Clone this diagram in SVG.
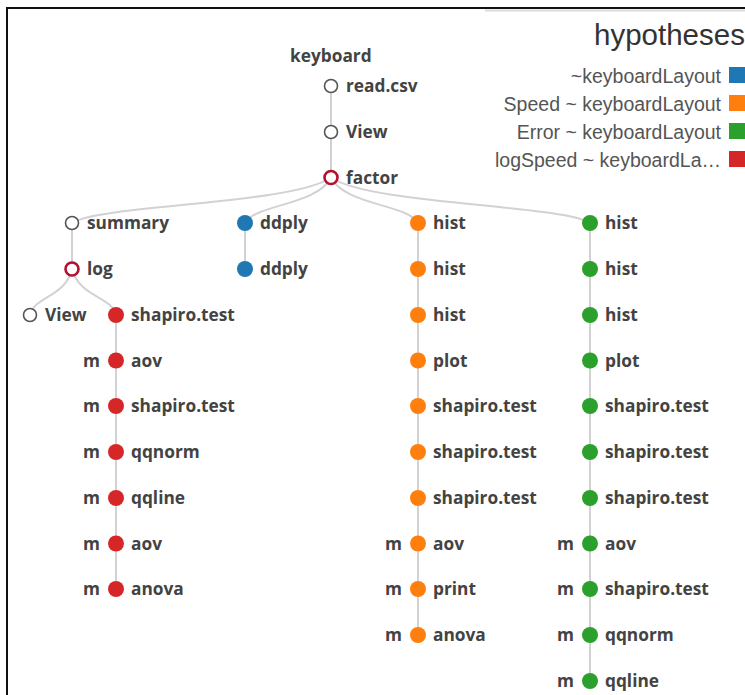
<svg xmlns="http://www.w3.org/2000/svg" width="745" height="695" viewBox="0 0 745 695">
<style>
.lbl{font-family:"Open Sans","DejaVu Sans",sans-serif;font-weight:700;font-size:17.3px;fill:#434343}
.m{text-anchor:end}
.leg{font-family:"Liberation Sans",Arial,sans-serif;font-size:19.5px;fill:#555;text-anchor:end}
.ttl{font-family:"Liberation Sans",Arial,sans-serif;font-size:29.5px;fill:#333}
.e{fill:none;stroke:#d2d2d2;stroke-width:2}
.ho{fill:#fff;stroke:#555;stroke-width:1.6}
.hr{fill:#fff;stroke:#b5102e;stroke-width:2.6}
.b{fill:#1f77b4}.o{fill:#ff7f0e}.g{fill:#2ca02c}.r{fill:#d62728}
</style>
<rect x="0" y="0" width="745" height="695" fill="#fff"/>
<line x1="485" y1="10.5" x2="745" y2="10.5" stroke="#dcdcdc" stroke-width="2"/>
<line x1="7" y1="8" x2="745" y2="8" stroke="#111" stroke-width="2"/>
<line x1="7" y1="7" x2="7" y2="695" stroke="#111" stroke-width="2"/>

<g id="connectors">
<path class="e" d="M331,86V177.5"/>
<path class="e" d="M331,177.5C292,204.8 98,204.8 72,223"/>
<path class="e" d="M331,177.5C318,204.8 254,204.8 245,223"/>
<path class="e" d="M331,177.5C344,204.8 409,204.8 418,223"/>
<path class="e" d="M331,177.5C370,204.8 564,204.8 590,223"/>
<path class="e" d="M72,223V269"/>
<path class="e" d="M72,269C66,296.6 34,296.6 30,315"/>
<path class="e" d="M72,269C79,296.6 112,296.6 116,315"/>
<path class="e" d="M116,315V589"/>
<path class="e" d="M245,223V269"/>
<path class="e" d="M418,223V635"/>
<path class="e" d="M590,223V681"/>
</g>

<g id="keyboard"><text class="lbl" x="290" y="62">keyboard</text></g>
<g id="read_csv"><circle class="ho" cx="331" cy="86" r="6.5"/><text class="lbl" x="346" y="92">read.csv</text></g>
<g id="view1"><circle class="ho" cx="331" cy="132" r="6.5"/><text class="lbl" x="346" y="138">View</text></g>
<g id="factor"><circle class="hr" cx="331" cy="177.5" r="6.5"/><text class="lbl" x="346" y="183.5">factor</text></g>

<g id="summary"><circle class="ho" cx="72" cy="223" r="6.5"/><text class="lbl" x="87" y="229">summary</text></g>
<g id="log"><circle class="hr" cx="72" cy="269" r="6.5"/><text class="lbl" x="87" y="275">log</text></g>
<g id="view2"><circle class="ho" cx="30" cy="315" r="6.5"/><text class="lbl" x="45" y="321">View</text></g>

<g id="r1"><circle class="r" cx="116" cy="315" r="8"/><text class="lbl" x="131" y="321">shapiro.test</text></g>
<g id="r2"><text class="lbl m" x="100" y="366.5">m</text><circle class="r" cx="116" cy="360.5" r="8"/><text class="lbl" x="131" y="366.5">aov</text></g>
<g id="r3"><text class="lbl m" x="100" y="412">m</text><circle class="r" cx="116" cy="406" r="8"/><text class="lbl" x="131" y="412">shapiro.test</text></g>
<g id="r4"><text class="lbl m" x="100" y="458">m</text><circle class="r" cx="116" cy="452" r="8"/><text class="lbl" x="131" y="458">qqnorm</text></g>
<g id="r5"><text class="lbl m" x="100" y="504">m</text><circle class="r" cx="116" cy="498" r="8"/><text class="lbl" x="131" y="504">qqline</text></g>
<g id="r6"><text class="lbl m" x="100" y="549.5">m</text><circle class="r" cx="116" cy="543.5" r="8"/><text class="lbl" x="131" y="549.5">aov</text></g>
<g id="r7"><text class="lbl m" x="100" y="595">m</text><circle class="r" cx="116" cy="589" r="8"/><text class="lbl" x="131" y="595">anova</text></g>

<g id="b1"><circle class="b" cx="245" cy="223" r="8"/><text class="lbl" x="260" y="229">ddply</text></g>
<g id="b2"><circle class="b" cx="245" cy="269" r="8"/><text class="lbl" x="260" y="275">ddply</text></g>

<g id="o1"><circle class="o" cx="418" cy="223" r="8"/><text class="lbl" x="433" y="229">hist</text></g>
<g id="o2"><circle class="o" cx="418" cy="269" r="8"/><text class="lbl" x="433" y="275">hist</text></g>
<g id="o3"><circle class="o" cx="418" cy="315" r="8"/><text class="lbl" x="433" y="321">hist</text></g>
<g id="o4"><circle class="o" cx="418" cy="360.5" r="8"/><text class="lbl" x="433" y="366.5">plot</text></g>
<g id="o5"><circle class="o" cx="418" cy="406" r="8"/><text class="lbl" x="433" y="412">shapiro.test</text></g>
<g id="o6"><circle class="o" cx="418" cy="452" r="8"/><text class="lbl" x="433" y="458">shapiro.test</text></g>
<g id="o7"><circle class="o" cx="418" cy="498" r="8"/><text class="lbl" x="433" y="504">shapiro.test</text></g>
<g id="o8"><text class="lbl m" x="402" y="549.5">m</text><circle class="o" cx="418" cy="543.5" r="8"/><text class="lbl" x="433" y="549.5">aov</text></g>
<g id="o9"><text class="lbl m" x="402" y="595">m</text><circle class="o" cx="418" cy="589" r="8"/><text class="lbl" x="433" y="595">print</text></g>
<g id="o10"><text class="lbl m" x="402" y="641">m</text><circle class="o" cx="418" cy="635" r="8"/><text class="lbl" x="433" y="641">anova</text></g>

<g id="g1"><circle class="g" cx="590" cy="223" r="8"/><text class="lbl" x="605" y="229">hist</text></g>
<g id="g2"><circle class="g" cx="590" cy="269" r="8"/><text class="lbl" x="605" y="275">hist</text></g>
<g id="g3"><circle class="g" cx="590" cy="315" r="8"/><text class="lbl" x="605" y="321">hist</text></g>
<g id="g4"><circle class="g" cx="590" cy="360.5" r="8"/><text class="lbl" x="605" y="366.5">plot</text></g>
<g id="g5"><circle class="g" cx="590" cy="406" r="8"/><text class="lbl" x="605" y="412">shapiro.test</text></g>
<g id="g6"><circle class="g" cx="590" cy="452" r="8"/><text class="lbl" x="605" y="458">shapiro.test</text></g>
<g id="g7"><circle class="g" cx="590" cy="498" r="8"/><text class="lbl" x="605" y="504">shapiro.test</text></g>
<g id="g8"><text class="lbl m" x="574" y="549.5">m</text><circle class="g" cx="590" cy="543.5" r="8"/><text class="lbl" x="605" y="549.5">aov</text></g>
<g id="g9"><text class="lbl m" x="574" y="595">m</text><circle class="g" cx="590" cy="589" r="8"/><text class="lbl" x="605" y="595">shapiro.test</text></g>
<g id="g10"><text class="lbl m" x="574" y="641">m</text><circle class="g" cx="590" cy="635" r="8"/><text class="lbl" x="605" y="641">qqnorm</text></g>
<g id="g11"><text class="lbl m" x="574" y="687">m</text><circle class="g" cx="590" cy="681" r="8"/><text class="lbl" x="605" y="687">qqline</text></g>

<g id="legend">
<text class="ttl" x="594" y="45">hypotheses</text>
<text class="leg" x="721" y="83">~keyboardLayout</text><rect class="b" x="729" y="67" width="17" height="16"/>
<text class="leg" x="721" y="111">Speed ~ keyboardLayout</text><rect class="o" x="729" y="95" width="17" height="16"/>
<text class="leg" x="721" y="139">Error ~ keyboardLayout</text><rect class="g" x="729" y="123" width="17" height="16"/>
<text class="leg" x="721" y="167">logSpeed ~ keyboardLa…</text><rect class="r" x="729" y="151" width="17" height="16"/>
</g>
</svg>
